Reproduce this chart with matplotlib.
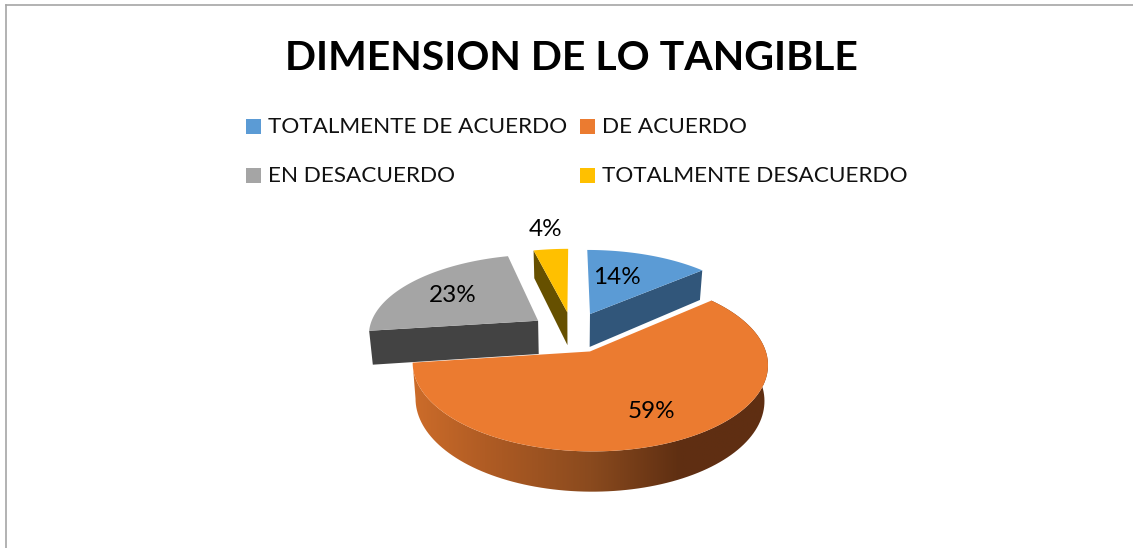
import numpy as np
import matplotlib
matplotlib.use('Agg')
import matplotlib.pyplot as plt
from matplotlib.colors import LinearSegmentedColormap
from matplotlib.patches import Polygon, Rectangle

categories = ['TOTALMENTE DE ACUERDO', 'DE ACUERDO', 'EN DESACUERDO', 'TOTALMENTE DESACUERDO']
values = [14, 59, 23, 4]
title = 'DIMENSION DE LO TANGIBLE'

top_colors = ['#5B9BD5', '#EB7B30', '#A5A5A5', '#FFC000']
cut_colors = ['#31567A', None, '#434343', '#665000']
legend_pos = [(246, 119), (580, 119), (246, 168), (580, 168)]
label_pos = [(617, 277), (651, 412), (453, 296), (546, 230)]

# pie projection, in pixels
cx, cy = 572.5, 332.0
rx, ry = 170.0, 82.0
persp = 0.15
explode = 0.25
depth = 34.0
bottom_shrink = 0.982

plt.rcParams['font.family'] = ['Lato', 'DejaVu Sans']


def project(ang, r, mid, low=False):
    # ang clockwise from the top, in radians
    px = explode * np.sin(mid) + r * np.sin(ang)
    py = explode * np.cos(mid) + r * np.cos(ang)
    p = 1 - persp * py
    sx = rx * px * p
    sy = cy - ry * py * p
    if low:
        return cx + sx * bottom_shrink, sy + depth * p
    return cx + sx, sy


def main():
    fig = plt.figure(figsize=(11.33, 5.48), dpi=100)
    ax = fig.add_axes([0, 0, 1, 1])

    fracs = np.array(values) / sum(values)
    edges = np.concatenate([[0], np.cumsum(fracs)]) * 2 * np.pi

    # frame of the pasted chart
    ax.plot([6, 6], [548, 4.5], color='#A6A6A6', lw=1.2)
    ax.plot([6, 1133], [4.5, 4.5], color='#A6A6A6', lw=1.2)

    # back slices first, orange last
    for i in [2, 3, 0, 1]:
        a0, a1 = edges[i], edges[i + 1]
        mid = (a0 + a1) / 2
        angs = np.linspace(a0, a1, 120)
        ax0, ay0 = project(a0, 0, mid)
        arc_x, arc_y = project(angs, 1, mid)
        lo_x, lo_y = project(angs, 1, mid, low=True)

        if i == 1:
            # round outer wall with the shading
            poly = np.vstack([np.column_stack([arc_x, arc_y]),
                              np.column_stack([lo_x, lo_y])[::-1]])
            patch = Polygon(poly, closed=True, fc='none', ec='none')
            ax.add_patch(patch)
            cmap = LinearSegmentedColormap.from_list('rim', [
                (0.0, '#CC6C2A'), (0.2, '#B05C24'), (0.5, '#8A4A1E'),
                (0.75, '#5F2F12'), (1.0, '#5F2E12')])
            im = ax.imshow(np.linspace(0, 1, 256)[None, :], cmap=cmap, aspect='auto',
                           extent=[poly[:, 0].min(), poly[:, 0].max(), poly[:, 1].max(), poly[:, 1].min()],
                           zorder=1)
            im.set_clip_path(patch)
        else:
            # flat cut face that looks at the viewer
            a = a1 if i == 0 else a0
            ex, ey = project(a, 1, mid)
            ex2, ey2 = project(a, 1, mid, low=True)
            bx, by = project(a, 0, mid, low=True)
            ax.add_patch(Polygon([(ax0, ay0), (ex, ey), (ex2, ey2), (bx, by)],
                                 closed=True, fc=cut_colors[i], ec='none', zorder=1 + 0.1 * i))

        z = 3 if i == 1 else 2
        ax.add_patch(Polygon(np.vstack([[ax0, ay0], np.column_stack([arc_x, arc_y])]),
                             closed=True, fc=top_colors[i], ec='none', zorder=z))

    for i, pct in enumerate(values):
        ax.text(label_pos[i][0], label_pos[i][1], '%d%%' % pct, fontsize=17.5,
                ha='center', va='center', color='#000000', zorder=5)

    ax.text(571, 58, title, fontsize=29.5, fontweight='bold', ha='center', va='center', color='#000000')

    for name, col, (lx, ly) in zip(categories, top_colors, legend_pos):
        ax.add_patch(Rectangle((lx, ly), 15, 15, fc=col, ec='none'))
        ax.text(lx + 22, ly + 8, name, fontsize=16.2, ha='left', va='center', color='#111111')

    ax.set_xlim(0, 1133)
    ax.set_ylim(548, 0)
    ax.axis('off')
    fig.savefig('out.png', dpi=100, facecolor='white')


if __name__ == '__main__':
    main()
